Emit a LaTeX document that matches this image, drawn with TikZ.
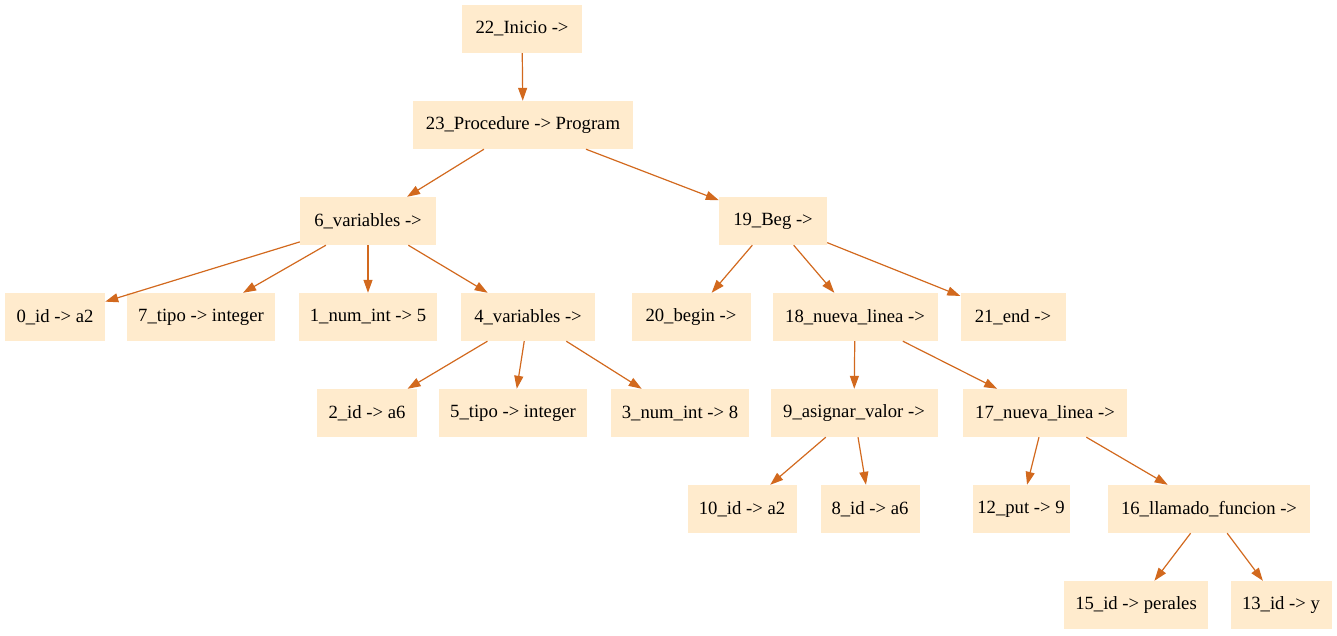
\documentclass[tikz,border=0pt]{standalone}
\usepackage{fontspec}
\setmainfont{Liberation Serif}
\usetikzlibrary{arrows.meta}
\definecolor{nodefill}{RGB}{255,235,205}
\definecolor{edgecol}{RGB}{210,105,30}
\tikzset{
  tn/.style={rectangle, fill=nodefill, draw=none, inner sep=0pt, minimum height=48pt, font=\fontsize{18.67}{22}\selectfont},
  ed/.style={draw=edgecol, line width=1.2pt, -{Triangle[length=13pt,width=9pt]}, shorten >=0pt}
}
\begin{document}
\begin{tikzpicture}[x=1pt,y=-1pt]
\useasboundingbox (0,0) rectangle (1337,635);
\node[tn, minimum width=120] (n22) at (522,29) {22\_Inicio ->};
\node[tn, minimum width=220] (n23) at (523,125) {23\_Procedure -> Program};
\node[tn, minimum width=136] (n6) at (368,221) {6\_variables ->};
\node[tn, minimum width=108] (n19) at (773,221) {19\_Beg ->};
\node[tn, minimum width=100] (n0) at (55,317) {0\_id -> a2};
\node[tn, minimum width=148] (n7) at (201,317) {7\_tipo -> integer};
\node[tn, minimum width=138] (n1) at (368,317) {1\_num\_int -> 5};
\node[tn, minimum width=134] (n4) at (528,317) {4\_variables ->};
\node[tn, minimum width=119] (n20) at (691,317) {20\_begin ->};
\node[tn, minimum width=165] (n18) at (855,317) {18\_nueva\_linea ->};
\node[tn, minimum width=105] (n21) at (1013,317) {21\_end ->};
\node[tn, minimum width=100] (n2) at (367,413) {2\_id -> a6};
\node[tn, minimum width=148] (n5) at (513,413) {5\_tipo -> integer};
\node[tn, minimum width=138] (n3) at (680,413) {3\_num\_int -> 8};
\node[tn, minimum width=167] (n9) at (854,413) {9\_asignar\_valor ->};
\node[tn, minimum width=164] (n17) at (1045,413) {17\_nueva\_linea ->};
\node[tn, minimum width=109] (n10) at (742,509) {10\_id -> a2};
\node[tn, minimum width=99] (n8) at (870,509) {8\_id -> a6};
\node[tn, minimum width=97] (n12) at (1021,509) {12\_put -> 9};
\node[tn, minimum width=202] (n16) at (1209,509) {16\_llamado\_funcion ->};
\node[tn, minimum width=144] (n15) at (1136,605) {15\_id -> perales};
\node[tn, minimum width=101] (n13) at (1281,605) {13\_id -> y};
\foreach \a/\b in {n22/n23, n23/n6, n23/n19, n6/n0, n6/n7, n6/n1, n6/n4, n4/n2, n4/n5, n4/n3, n19/n20, n19/n18, n19/n21, n18/n9, n18/n17, n9/n10, n9/n8, n17/n12, n17/n16, n16/n15, n16/n13}
  \draw[ed] (\a) -- (\b);
\end{tikzpicture}
\end{document}
